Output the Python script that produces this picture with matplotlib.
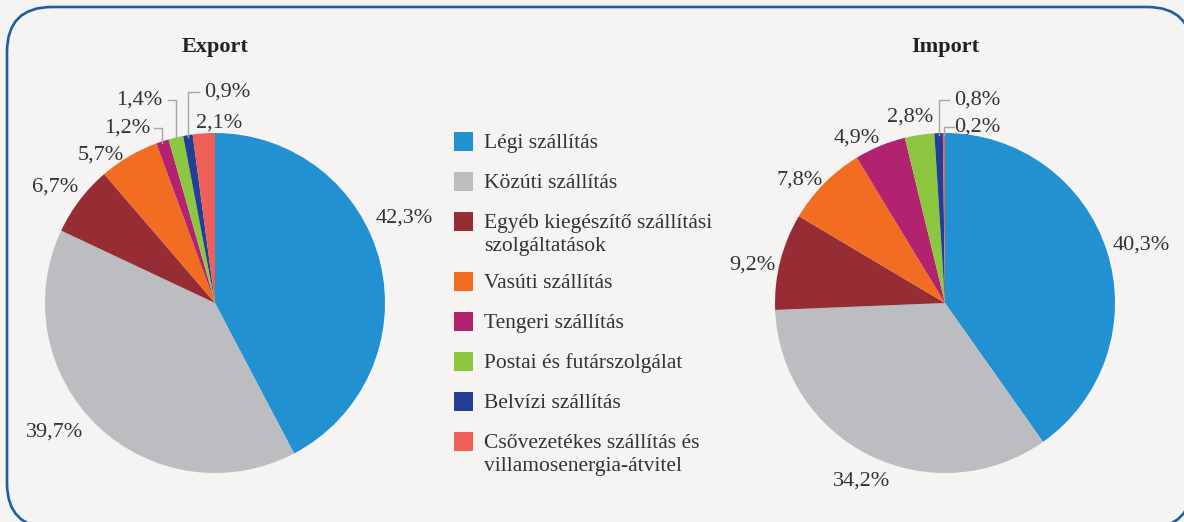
"""
Export / import pie charts of transport services by mode, with a shared legend.
"""

import math
import matplotlib
matplotlib.use('Agg')
import matplotlib.pyplot as plt
from matplotlib.patches import FancyBboxPatch, Rectangle

# --- data ---
categories = [
    'Légi szállítás',
    'Közúti szállítás',
    'Egyéb kiegészítő szállítási\nszolgáltatások',
    'Vasúti szállítás',
    'Tengeri szállítás',
    'Postai és futárszolgálat',
    'Belvízi szállítás',
    'Csővezetékes szállítás és\nvillamosenergia-átvitel',
]
export_share = [42.3, 39.7, 6.7, 5.7, 1.2, 1.4, 0.9, 2.1]
import_share = [40.3, 34.2, 9.2, 7.8, 4.9, 2.8, 0.8, 0.2]

colors = ['#2191d1', '#bcbdc1', '#962d34', '#f26c22',
          '#b2226e', '#8dc63f', '#233f95', '#f05f58']

BG = '#f5f4f2'
TXT = '#333333'
W, H = 1184, 522

plt.rcParams['font.family'] = ['Liberation Serif', 'DejaVu Serif']

fig = plt.figure(figsize=(W / 100, H / 100), dpi=100)
fig.patch.set_facecolor(BG)

# background axes in pixel units (y from top)
bg = fig.add_axes([0, 0, 1, 1], zorder=0)
bg.set_xlim(0, W)
bg.set_ylim(H, 0)
bg.axis('off')
bg.add_patch(FancyBboxPatch((7, 7), 1185, 521,
                            boxstyle='round,pad=0,rounding_size=45',
                            facecolor=BG, edgecolor='#1a5fa0', linewidth=1.9,
                            clip_on=False))


def draw_pie(cx, cy, r, values, title, label_pos, leaders):
    ax = fig.add_axes([(cx - r) / W, (H - cy - r) / H, 2 * r / W, 2 * r / H], zorder=2)
    wedges, _ = ax.pie(values, colors=colors, startangle=90, counterclock=False,
                       radius=1, wedgeprops=dict(linewidth=0))
    ax.set_xlim(-1, 1)
    ax.set_ylim(-1, 1)
    ax.set_aspect('equal')
    ax.axis('off')

    for i, (w, v) in enumerate(zip(wedges, values)):
        lx, ly = label_pos[i]
        ax.text(lx, ly, f'{v:.1f}%'.replace('.', ','), ha='center', va='center',
                fontsize=16, color=TXT)
        if i in leaders:
            # elbow leader: from the wedge edge straight up, then across to the label
            theta = math.radians((w.theta1 + w.theta2) / 2)
            ex, ey = math.cos(theta), math.sin(theta)
            side = 1 if lx > ex else -1
            hx = lx - side * leaders[i]
            ax.plot([hx, ex, ex], [ly, ly, ey * 0.99], color='#a6a6a6',
                    linewidth=1, clip_on=False, zorder=1)

    fig.text(cx / W, 1 - 47 / H, title, ha='center', va='center',
             fontsize=16, fontweight='bold', color='#222222')


export_labels = [(1.112, 0.50), (-0.941, -0.759), (-0.941, 0.682), (-0.671, 0.871),
                 (-0.518, 1.029), (-0.447, 1.194), (0.071, 1.241), (0.024, 1.059)]
draw_pie(215, 303, 170, export_share, 'Export', export_labels,
         {4: 0.16, 5: 0.17, 6: 0.165})

import_labels = [(1.153, 0.341), (-0.488, -1.047), (-1.135, 0.224), (-0.853, 0.724),
                 (-0.518, 0.971), (-0.206, 1.094), (0.188, 1.194), (0.188, 1.035)]
draw_pie(945, 303, 170, import_share, 'Import', import_labels,
         {6: 0.165, 7: 0.135})

# legend (manual, pixel layout)
y = 141
for name, c in zip(categories, colors):
    bg.add_patch(Rectangle((454, y - 9.5), 19, 19, facecolor=c, edgecolor='none'))
    lines = name.split('\n')
    for k, ln in enumerate(lines):
        bg.text(484, y + 23 * k, ln, ha='left', va='center_baseline',
                fontsize=15.5, color=TXT)
    y += 40 + 20 * (len(lines) - 1)

fig.savefig('out.png', dpi=100, facecolor=BG)
